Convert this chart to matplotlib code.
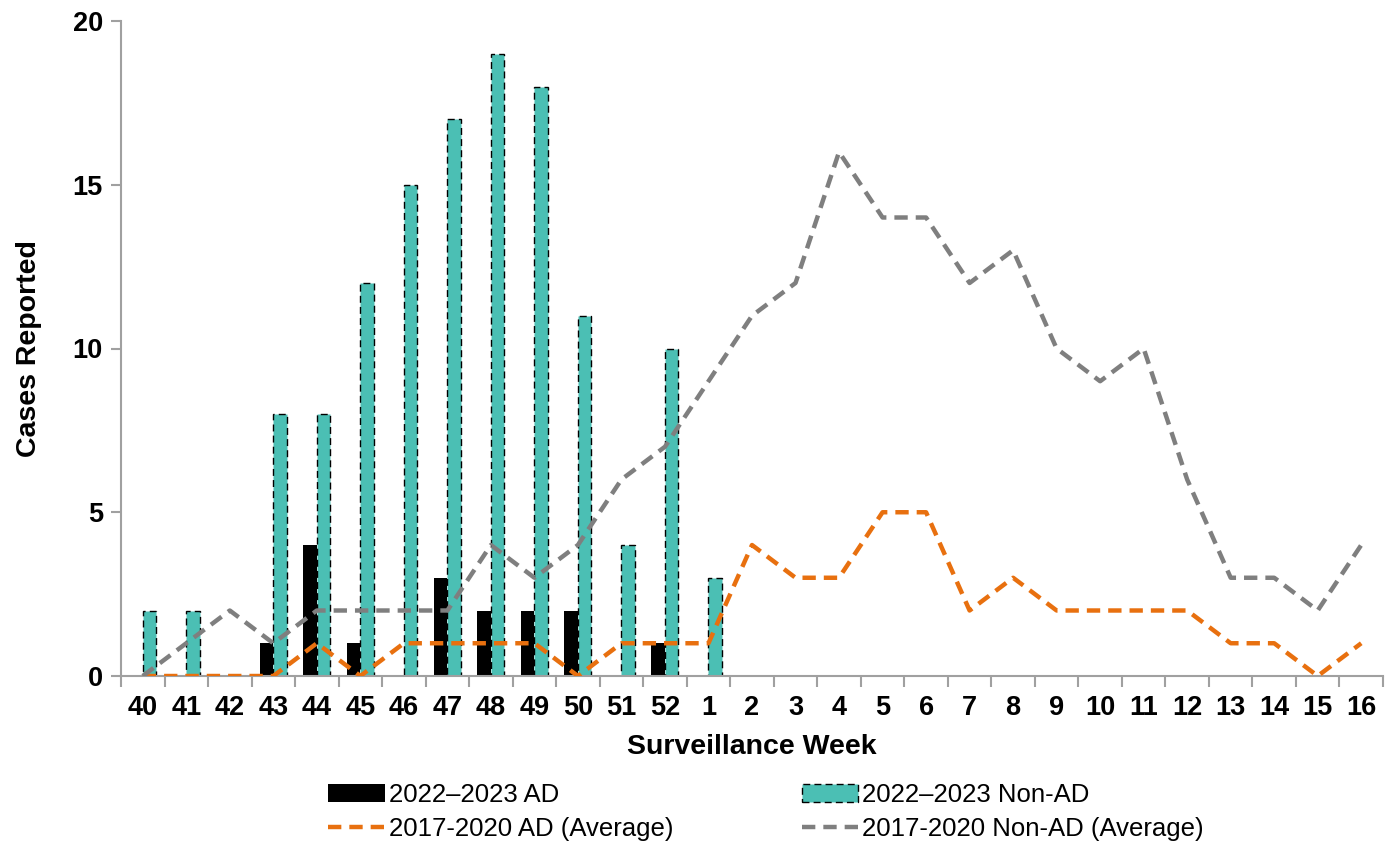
import matplotlib
matplotlib.use("Agg")
import matplotlib.pyplot as plt
import numpy as np

plt.rcParams["font.family"] = ["Liberation Sans", "DejaVu Sans"]

weeks = ["40", "41", "42", "43", "44", "45", "46", "47", "48", "49", "50", "51", "52",
         "1", "2", "3", "4", "5", "6", "7", "8", "9", "10", "11", "12", "13", "14", "15", "16"]
ad_2223 = [0, 0, 0, 1, 4, 1, 0, 3, 2, 2, 2, 0, 1, 0]
nonad_2223 = [2, 2, 0, 8, 8, 12, 15, 17, 19, 18, 11, 4, 10, 3]
ad_avg = [0, 0, 0, 0, 1, 0, 1, 1, 1, 1, 0, 1, 1, 1, 4, 3, 3, 5, 5, 2, 3, 2, 2, 2, 2, 1, 1, 0, 1]
nonad_avg = [0, 1, 2, 1, 2, 2, 2, 2, 4, 3, 4, 6, 7, 9, 11, 12, 16, 14, 14, 12, 13, 10, 9, 10, 6, 3, 3, 2, 4]

TEAL = "#4BBFB4"
ORANGE = "#E8700F"
GRAY = "#7F7F7F"
AXC = "#A0A0A0"

fig = plt.figure(figsize=(13.98, 8.5), dpi=100)
ax = fig.add_axes([121 / 1398, 1 - 676 / 850, (1383 - 121) / 1398, (676 - 21) / 850])

x = np.arange(len(weeks))
w = 0.31
xb = np.arange(len(ad_2223))
ax.bar(xb - w / 2, ad_2223, w, color="black", label="2022\u20132023 AD", zorder=2)
ax.bar(xb + w / 2, nonad_2223, w, color=TEAL, edgecolor="black", linestyle=(0, (5, 3)),
       linewidth=1.0, label="2022\u20132023 Non-AD", zorder=2)
ax.plot(x, ad_avg, color=ORANGE, lw=3.2, ls=(0, (3, 1.8)), label="2017-2020 AD (Average)", zorder=3)
ax.plot(x, nonad_avg, color=GRAY, lw=3.2, ls=(0, (3, 1.8)), label="2017-2020 Non-AD (Average)", zorder=3)

ax.set_xlim(-0.5, len(weeks) - 0.5)
ax.set_ylim(0, 20)
ax.set_yticks([0, 5, 10, 15, 20])
ax.set_xticks(x)
ax.set_xticklabels(weeks)
ax.set_xticks(np.arange(-0.5, len(weeks)), minor=True)
ax.tick_params(axis="x", which="major", length=0, pad=14, labelsize=19.5)
ax.tick_params(axis="x", which="minor", length=8, width=1.5, color=AXC, direction="out")
ax.tick_params(axis="y", length=7, width=1.5, color=AXC, pad=6, labelsize=19.5)
for lab in ax.get_xticklabels() + ax.get_yticklabels():
    lab.set_fontweight("bold")
for s in ["top", "right"]:
    ax.spines[s].set_visible(False)
for s in ["left", "bottom"]:
    ax.spines[s].set_color(AXC)
    ax.spines[s].set_linewidth(1.5)

ax.set_xlabel("Surveillance Week", fontsize=20.5, fontweight="bold", labelpad=9)
ax.set_ylabel("Cases Reported", fontsize=20.5, fontweight="bold", labelpad=22)

h, l = ax.get_legend_handles_labels()
h = [h[i] for i in [2, 0, 3, 1]]
l = [l[i] for i in [2, 0, 3, 1]]
fig.legend(h, l, loc="center", bbox_to_anchor=(766 / 1398, 1 - 812 / 850), ncol=2,
           frameon=False, fontsize=18.5, handlelength=2.2, handletextpad=0.15,
           columnspacing=5.0, labelspacing=0.4)

fig.savefig("out.png", dpi=100)
